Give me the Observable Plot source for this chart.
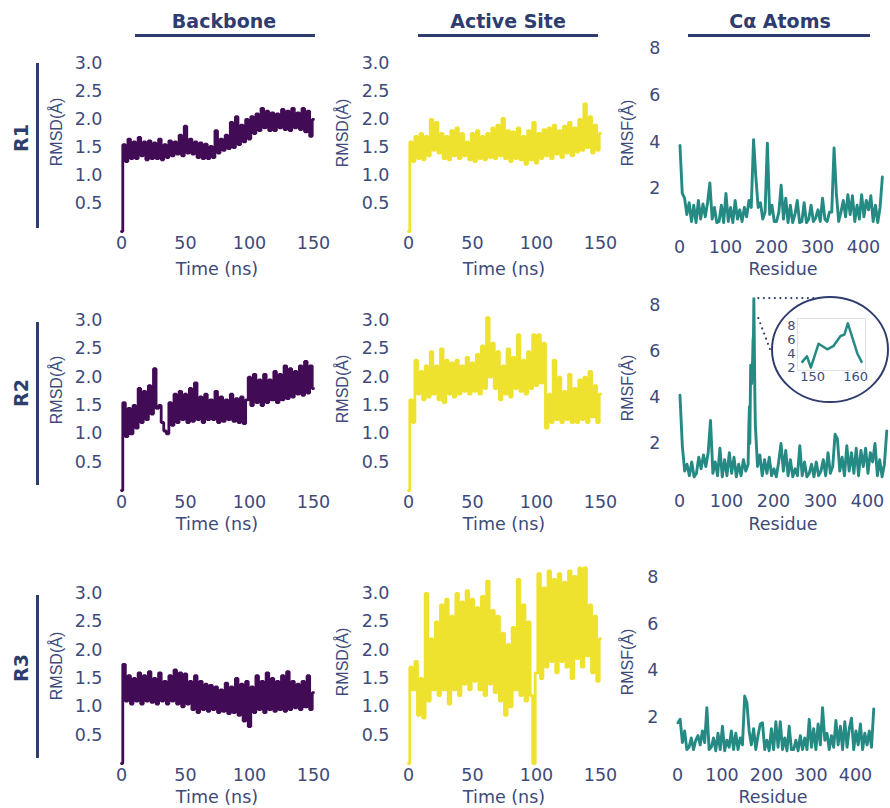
<!DOCTYPE html>
<html><head><meta charset="utf-8">
<script src="https://cdn.jsdelivr.net/npm/d3@7"></script>
<script src="https://cdn.jsdelivr.net/npm/@observablehq/plot@0.6"></script>
<style>
body{margin:0;background:#fff;}
#root{position:relative;width:890px;height:808px;overflow:hidden;font-family:"DejaVu Sans",sans-serif;color:#3e4a7a;}
.t{position:absolute;white-space:nowrap;transform:translate(-50%,-50%);line-height:1;}
.hdr{font-weight:bold;font-size:19px;color:#2e3c6e;}
.row{font-weight:bold;font-size:19px;color:#2e3c6e;transform:translate(-50%,-50%) rotate(-90deg);}
.ylab{font-family:"Liberation Sans",Arial,sans-serif;font-size:16px;transform:translate(-50%,-50%) rotate(-90deg);}
.xlab{font-size:17.5px;}
.bar{position:absolute;background:#2e3c6e;}
</style></head>
<body><div id="root"></div>
<script>
// ---------- data ----------
const columns = ["Backbone", "Active Site", "Cα Atoms"];
const rows = ["R1", "R2", "R3"];
const time = d3.range(0, 151, 2);          // ns, sampling grid
const residues = d3.range(1, 446, 5);      // residue sampling grid
const rmsdTicks = [0.5, 1, 1.5, 2, 2.5, 3];
const rmsfTicks = [2, 4, 6, 8];
const timeTicks = [0, 50, 100, 150];
const residueTicks = [0, 100, 200, 300, 400];

const backboneR1 = [0,1.55,1.25,1.65,1.3,1.6,1.3,1.68,1.35,1.6,
 1.28,1.62,1.3,1.58,1.3,1.65,1.28,1.55,1.32,1.62,
 1.35,1.6,1.38,1.72,1.35,1.88,1.4,1.65,1.38,1.6,
 1.32,1.58,1.3,1.56,1.3,1.52,1.32,1.8,1.4,1.65,
 1.45,1.72,1.48,1.95,1.5,2.05,1.55,1.9,1.6,2.0,
 1.65,2.05,1.75,2.1,1.8,2.2,1.85,2.15,1.8,2.12,
 1.8,2.1,1.85,2.18,1.82,2.15,1.8,2.2,1.85,2.12,
 1.82,2.2,1.78,2.15,1.7,2.0];
const activeR1 = [0,1.6,1.25,1.7,1.3,1.75,1.28,1.7,1.35,2.0,
 1.45,1.95,1.4,1.75,1.3,1.7,1.28,1.8,1.35,1.85,
 1.3,1.75,1.35,1.6,1.28,1.75,1.25,1.8,1.3,1.7,
 1.28,1.75,1.32,1.85,1.3,1.9,1.35,2.02,1.3,1.8,
 1.25,1.78,1.3,1.85,1.28,1.7,1.2,1.8,1.28,1.95,
 1.22,1.75,1.3,1.82,1.35,1.85,1.3,1.9,1.38,1.8,
 1.32,1.88,1.4,1.95,1.35,1.85,1.42,2.0,1.45,2.28,
 1.5,2.05,1.4,1.9,1.45,1.75];
const backboneR2 = [0,1.55,0.95,1.45,1.0,1.5,1.1,1.8,1.2,1.75,
 1.25,1.85,1.35,2.15,1.45,1.5,1.2,1.05,1.0,1.55,
 1.15,1.7,1.2,1.75,1.25,1.7,1.2,1.8,1.22,1.9,
 1.25,1.65,1.2,1.7,1.25,1.6,1.25,1.75,1.2,1.65,
 1.22,1.6,1.25,1.7,1.22,1.62,1.2,1.65,1.18,1.6,
 2.0,1.5,2.05,1.55,1.95,1.5,2.05,1.55,1.95,1.6,
 2.1,1.55,2.05,1.6,2.2,1.62,2.15,1.65,2.1,1.7,
 2.2,1.68,2.28,1.72,2.2,1.8];
const activeR2 = [0,1.6,1.2,2.3,1.7,2.1,1.6,2.2,1.65,2.45,
 1.7,2.2,1.6,2.5,1.55,2.3,1.7,2.25,1.65,2.3,
 1.7,2.2,1.75,2.35,1.7,2.25,1.75,2.4,1.7,2.55,
 1.8,3.05,2.0,2.6,1.8,2.45,1.6,2.2,1.7,2.5,
 1.65,2.35,1.8,2.75,1.75,2.3,1.7,2.45,1.8,2.75,
 1.85,2.75,1.9,2.6,1.1,1.7,1.2,2.3,1.25,2.0,
 1.2,1.75,1.25,2.05,1.2,1.8,1.2,1.95,1.25,2.0,
 1.2,2.1,1.3,1.85,1.2,1.7];
const backboneR3 = [0,1.75,1.1,1.55,1.05,1.5,1.1,1.6,1.05,1.55,
 1.1,1.62,1.08,1.5,1.05,1.6,1.1,1.45,1.05,1.55,
 1.1,1.65,1.05,1.6,1.0,1.58,1.05,1.45,0.95,1.55,
 0.9,1.45,0.95,1.4,0.92,1.38,0.95,1.35,0.9,1.3,
 0.92,1.42,0.88,1.35,0.9,1.5,0.85,1.4,0.75,1.45,
 0.65,1.35,0.9,1.55,0.95,1.45,0.9,1.6,0.95,1.5,
 0.92,1.45,0.95,1.55,0.92,1.62,0.95,1.45,0.98,1.4,
 0.95,1.45,1.0,1.55,0.95,1.25];
const activeR3 = [0,1.7,1.3,1.8,0.85,1.5,0.8,3.0,1.1,2.2,
 1.3,2.5,1.2,2.8,1.3,2.9,1.05,2.6,1.3,3.0,
 1.2,2.85,1.4,3.05,1.3,2.9,1.45,2.75,1.3,2.95,
 1.2,3.22,1.4,2.7,1.25,2.6,1.1,2.3,0.85,2.1,
 1.0,2.4,1.3,3.25,1.2,2.8,1.1,2.5,1.2,0.0,
 1.6,3.35,1.5,3.1,1.7,3.4,1.8,3.25,1.6,3.35,
 1.8,3.2,1.7,3.4,1.5,3.3,1.85,3.45,1.7,3.45,
 1.9,2.8,1.6,2.6,1.45,2.2];

const rmsfR1 = [3.85,1.8,1.6,0.9,1.4,0.6,1.3,0.55,1.5,0.7,
 1.35,0.8,1.4,2.25,0.7,1.2,0.55,0.6,1.3,0.55,
 1.8,0.6,1.2,0.55,1.5,0.7,1.1,0.6,1.2,0.8,
 1.5,1.2,4.1,2.5,1.2,1.4,0.7,1.0,3.95,0.9,
 1.3,0.6,0.6,1.0,2.15,0.7,1.6,0.55,1.3,0.55,
 0.9,1.5,0.55,0.6,1.4,0.55,0.7,1.3,0.6,0.75,
 1.1,0.6,1.6,0.7,0.6,1.0,1.0,3.75,1.8,0.6,
 1.0,1.5,0.8,1.75,0.9,1.7,0.6,1.3,0.7,1.75,
 0.8,1.5,1.1,1.7,0.6,1.3,0.55,1.2,2.5];
const rmsfR2 = [4.1,1.9,0.8,1.1,0.6,1.2,0.55,0.7,1.4,0.9,
 1.5,1.0,1.6,3.0,0.7,1.2,0.6,1.8,0.55,1.3,
 0.6,1.6,0.7,1.4,0.55,1.1,0.6,1.3,0.8,1.1,
 3.5,6.6,2.8,1.0,1.5,0.6,1.3,0.7,1.4,0.6,
 0.9,0.55,1.2,2.0,0.8,1.7,0.6,1.3,0.55,0.9,
 0.6,1.9,0.6,1.2,0.55,0.7,1.1,0.55,1.2,0.6,
 0.8,1.3,0.6,1.6,0.7,1.0,2.4,2.2,0.8,1.4,
 0.6,1.9,0.8,1.6,0.7,1.8,0.6,1.7,1.0,1.8,
 0.7,1.6,1.2,2.0,0.6,1.3,0.55,1.1,2.55];
const rmsfR3 = [1.75,1.9,0.9,1.4,0.6,0.7,1.1,0.6,1.0,1.2,
 0.8,1.4,0.9,2.4,0.6,0.7,1.1,0.55,1.3,0.6,
 1.6,0.55,1.0,0.7,1.4,0.6,1.3,0.6,1.1,0.8,
 2.9,2.6,1.4,0.8,1.5,0.6,1.2,1.7,1.75,0.6,
 1.0,0.55,1.5,0.6,1.8,0.7,1.8,0.6,1.1,0.55,
 1.6,0.6,0.6,1.0,0.55,1.2,0.6,1.1,0.6,1.9,
 0.7,1.5,0.6,1.7,0.8,2.4,1.0,1.3,0.6,1.2,
 0.7,1.85,0.8,1.6,0.6,1.8,0.7,1.5,1.95,0.6,
 1.4,0.8,1.7,0.6,1.3,0.8,1.4,0.7,2.35];
// zoomed-in peak of R2 (inset)
const insetResidue = [147.6,148.7,149.6,151.4,153.4,154.9,156.5,157.4,158.2,160.4,161.4];
const insetRmsf    = [2.8,3.6,2.0,5.4,4.6,5.1,6.5,6.7,8.3,4.0,2.8];
const insetXTicks = [150, 160];
const insetYTicks = [2, 4, 6, 8];

// ---------- style ----------
const C_TEXT = "#3e4a7a", C_HEAD = "#2e3c6e";
const PURPLE = "#420b55", YELLOW = "#efe22e", TEAL = "#258a83";
const root = document.getElementById("root");

function txt(s, x, y, cls) {
  const d = document.createElement("div");
  d.className = "t " + cls; d.textContent = s;
  d.style.left = x + "px"; d.style.top = y + "px";
  root.appendChild(d);
}
function bar(x, y, w, h) {
  const d = document.createElement("div");
  d.className = "bar";
  Object.assign(d.style, {left: x + "px", top: y + "px", width: w + "px", height: h + "px"});
  root.appendChild(d);
}

function panel(o) {
  const mL = o.mL ?? 62, mR = o.mR ?? 30, mT = o.mT ?? 30, mB = o.mB ?? 32;
  const w = o.xr[1] - o.xr[0], h = o.yr[0] - o.yr[1];
  const p = Plot.plot({
    width: w + mL + mR, height: h + mT + mB,
    marginLeft: mL, marginRight: mR, marginTop: mT, marginBottom: mB,
    style: {background: "transparent", overflow: "visible", fontSize: (o.fs ?? 17.5) + "px",
            fontFamily: "'DejaVu Sans', sans-serif", color: C_TEXT},
    x: {domain: o.xd, ticks: o.xt, tickSize: 0, tickPadding: o.padX ?? 5, label: null},
    y: {domain: o.yd, ticks: o.yt, tickFormat: o.yf, tickSize: 0, tickPadding: o.padY ?? 19, label: null},
    marks: [...(o.extra || []),
      Plot.line(o.data, {x: "x", y: "y", stroke: o.color, strokeWidth: o.sw ?? 2.6,
                         curve: o.curve ?? "linear", strokeLinejoin: o.join ?? "round"})]
  });
  p._left = o.xr[0] - mL; p._top = o.yr[1] - mT;
  Object.assign(p.style, {position: "absolute", left: p._left + "px", top: p._top + "px"});
  root.appendChild(p);
  return p;
}

const ts = vals => vals.map((v, i) => ({x: time[i], y: v}));
const rs = vals => vals.map((v, i) => ({x: residues[i], y: v}));
const f1 = d3.format(".1f");

const rmsdY = [[231, 63], [490, 320], [763, 593]];
const rmsfY = [[235, 48], [489, 305], [763, 577]];
const rmsfX = [[679, 863], [679, 867], [677, 855]];
const backbone = [backboneR1, backboneR2, backboneR3];
const active = [activeR1, activeR2, activeR3];
const insetData = insetResidue.map((r, i) => ({x: r, y: insetRmsf[i]}));
const rmsfR2Full = rs(rmsfR2).filter(d => d.x < 147 || d.x > 162).concat(insetData).sort((a, b) => a.x - b.x);
const rmsf = [rs(rmsfR1), rmsfR2Full, rs(rmsfR3)];

let peakPanel;
for (let r = 0; r < 3; r++) {
  panel({data: ts(backbone[r]), color: PURPLE, xd: [0, 150], xt: timeTicks, xr: [121, 313],
         yd: [0, 3], yt: rmsdTicks, yf: f1, yr: rmsdY[r], curve: "step", sw: 2.8, join: "miter"});
  panel({data: ts(active[r]), color: YELLOW, xd: [0, 150], xt: timeTicks, xr: [408, 600],
         yd: [0, 3], yt: rmsdTicks, yf: f1, yr: rmsdY[r], curve: "step", sw: 2.8, join: "miter"});
  const p = panel({data: rmsf[r], color: TEAL, xd: [0, 400], xt: residueTicks, xr: rmsfX[r],
         yd: [0, 8], yt: rmsfTicks, yr: rmsfY[r], sw: 2.9});
  if (r === 1) peakPanel = p;
}

// inset
panel({data: insetData, color: TEAL, xd: [146.5, 162.3], xt: insetXTicks, xr: [797, 865],
       yd: [1.57, 9], yt: insetYTicks, yr: [370, 318], fs: 13, padX: 1, padY: 2,
       mL: 20, mR: 6, mT: 6, mB: 18, sw: 2.5, extra: [Plot.frame({stroke: "#e2e2e2"})]});

// decorations: ellipse + dotted leaders from the R2 peak
const sx = peakPanel.scale("x"), sy = peakPanel.scale("y");
const pk = d3.greatest(rmsfR2Full, d => d.y);
const px = peakPanel._left + sx.apply(pk.x), py = peakPanel._top + sy.apply(pk.y);
const ov = d3.create("svg").attr("width", 890).attr("height", 808)
  .style("position", "absolute").style("left", "0px").style("top", "0px");
ov.append("ellipse").attr("cx", 830).attr("cy", 349.5).attr("rx", 58).attr("ry", 52.5)
  .attr("fill", "none").attr("stroke", C_HEAD).attr("stroke-width", 2);
const dots = ov.append("g").attr("stroke", C_HEAD).attr("stroke-width", 2.2)
  .attr("stroke-linecap", "round").attr("stroke-dasharray", "0,5.5");
dots.append("line").attr("x1", px + 5).attr("y1", py).attr("x2", 816).attr("y2", py);
dots.append("line").attr("x1", px + 5).attr("y1", py + 20).attr("x2", 771).attr("y2", 352);
root.appendChild(ov.node());

// headers
const hx = [[224, 135, 315], [508, 418, 598], [780, 688, 870]];
columns.forEach((c, i) => { txt(c, hx[i][0], 21, "hdr"); bar(hx[i][1], 34, hx[i][2] - hx[i][1], 3); });
const ry = [[138, 63, 228], [393, 322, 485], [668, 595, 758]];
rows.forEach((r, i) => { txt(r, 21, ry[i][0], "row"); bar(36, ry[i][1], 3, ry[i][2] - ry[i][1]); });

// axis titles
const ylabY = [[132, 133, 133], [390, 389, 388], [666, 662, 662]];
const xlabY = [270, 525, 798];
const resX = [783, 783, 773];
for (let r = 0; r < 3; r++) {
  txt("RMSD(Å)", 57, ylabY[r][0], "ylab");
  txt("RMSD(Å)", 343, ylabY[r][1], "ylab");
  txt("RMSF(Å)", 628, ylabY[r][2], "ylab");
  txt("Time (ns)", 217, xlabY[r], "xlab");
  txt("Time (ns)", 504, xlabY[r], "xlab");
  txt("Residue", resX[r], xlabY[r], "xlab");
}
</script></body></html>
